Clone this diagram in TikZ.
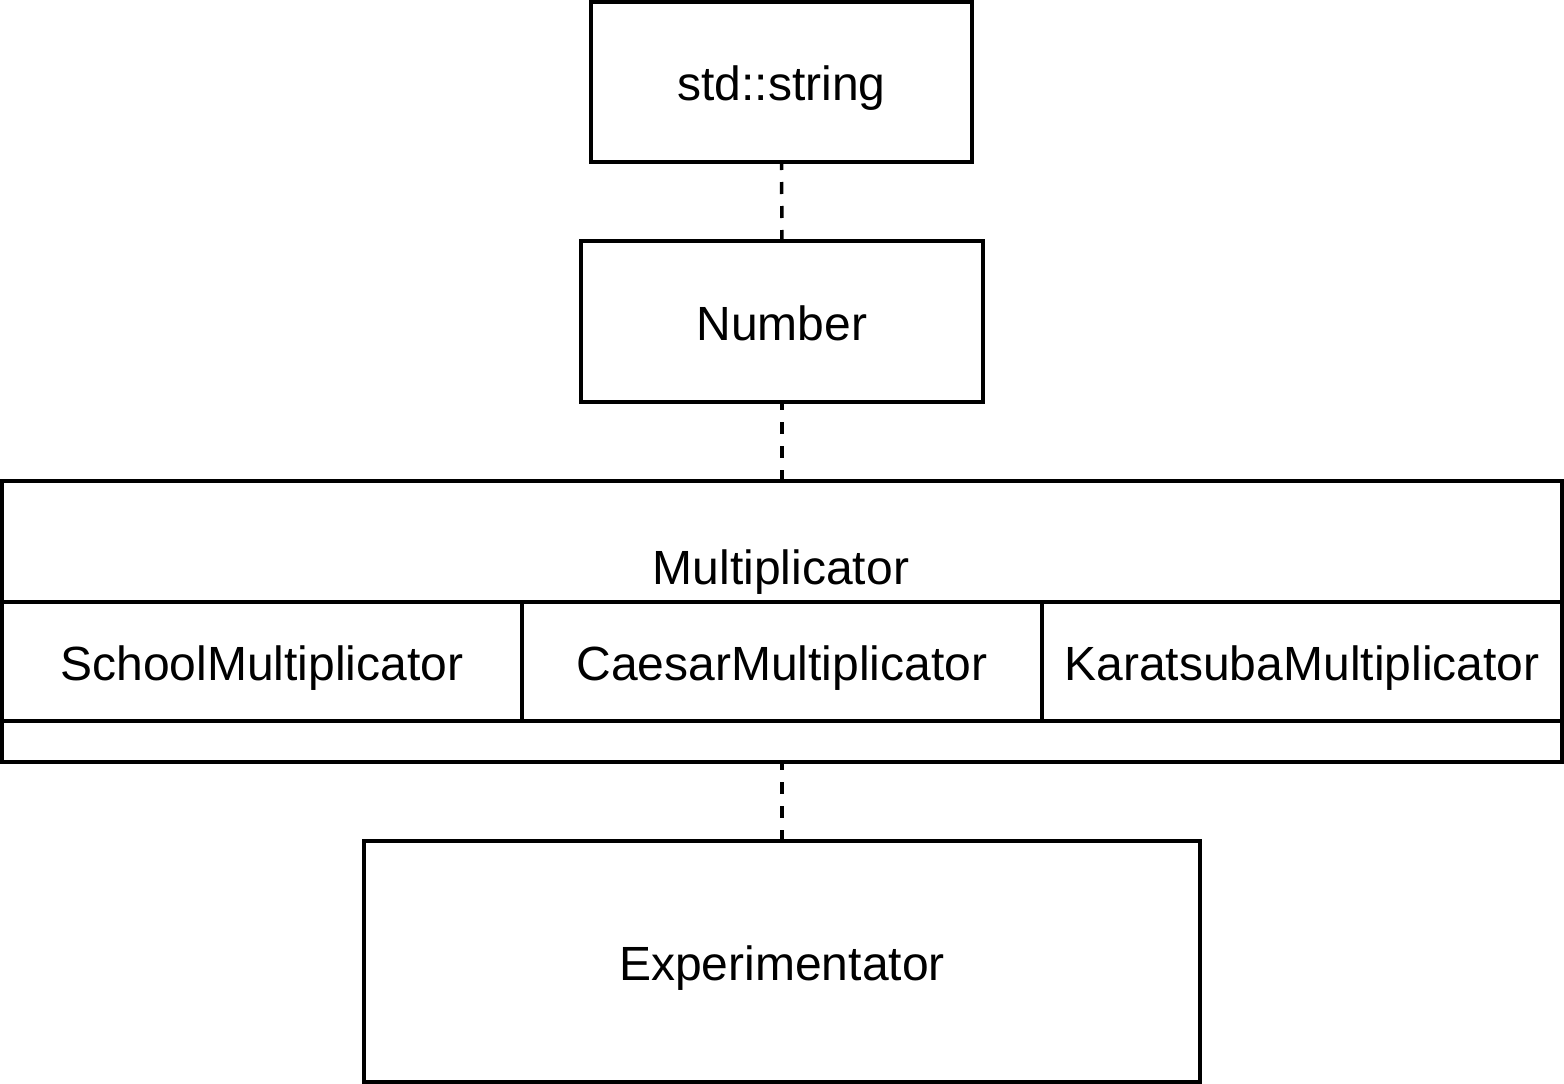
\documentclass[tikz,border=0pt]{standalone}
\usepackage{fontspec}
\setmainfont{Liberation Sans}
\begin{document}
\begin{tikzpicture}[x=1pt,y=-1pt,
  box/.style={draw=black,line width=3.5pt,rectangle,inner sep=0pt,outer sep=0pt,
    font=\fontsize{48}{56}\selectfont,text height=37pt,text depth=0pt},
  label/.style={inner sep=0pt,outer sep=0pt,font=\fontsize{48}{56}\selectfont,text height=37pt,text depth=0pt},
  link/.style={line width=3.5pt,dash pattern=on 12pt off 12pt,dash phase=4pt}]
\useasboundingbox (0,0) rectangle (1564,1084);
\node[box,minimum width=381pt,minimum height=160pt] (str) at (781.5,82) {std::string};
\node[box,minimum width=402pt,minimum height=161pt] (num) at (782,321.5) {Number};
\node[box,minimum width=1560pt,minimum height=281pt] (mul) at (782,621.5) {};
\node[label] (multitle) at (781,566) {Multiplicator};
\node[box,minimum width=520pt,minimum height=119pt] (school) at (262,661.5) {SchoolMultiplicator};
\node[box,minimum width=520pt,minimum height=119pt] (caesar) at (782,661.5) {CaesarMultiplicator};
\node[box,minimum width=520pt,minimum height=119pt] (kara) at (1302,661.5) {KaratsubaMultiplicator};
\node[box,minimum width=836pt,minimum height=241pt] (exp) at (782,961.5) {Experimentator};
\draw[link] (str.south) -- (num.north);
\draw[link] (num.south) -- (mul.north);
\draw[link] (mul.south) -- (exp.north);
\end{tikzpicture}
\end{document}
